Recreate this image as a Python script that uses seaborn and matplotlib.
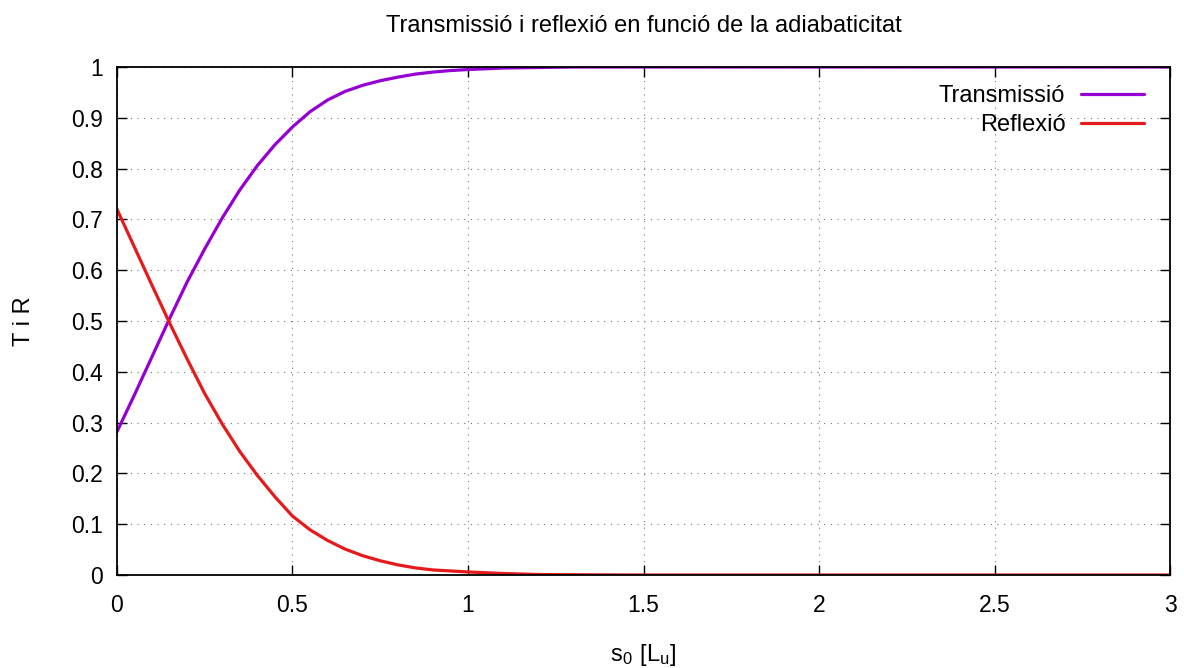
import matplotlib
matplotlib.use('Agg')
import matplotlib.pyplot as plt
import seaborn as sb
import numpy as np
import pandas as pd

# Values
s0 = [0, 0.05, 0.1, 0.15, 0.2, 0.25, 0.3, 0.35, 0.4, 0.45, 0.5, 0.55, 0.6, 0.65,
      0.7, 0.75, 0.8, 0.85, 0.9, 0.95, 1.0, 1.1, 1.2, 1.3, 1.5, 2.0, 2.5, 3.0]
transmissio = [0.282, 0.355, 0.43, 0.505, 0.577, 0.642, 0.703, 0.758, 0.806, 0.847, 0.882,
               0.912, 0.935, 0.952, 0.964, 0.973, 0.980, 0.986, 0.990, 0.993, 0.995,
               0.998, 0.999, 1.0, 1.0, 1.0, 1.0, 1.0]
reflexio = [0.72, 0.645, 0.57, 0.496, 0.425, 0.357, 0.297, 0.243, 0.196, 0.154, 0.116,
            0.089, 0.068, 0.051, 0.038, 0.028, 0.020, 0.014, 0.010, 0.008, 0.006,
            0.003, 0.001, 0.0005, 0, 0, 0, 0]
series_names = ['Transmissió', 'Reflexió']
colors = ['#9400d3', '#e41a1c']

df = pd.DataFrame({'s0': s0 * 2,
                   'val': transmissio + reflexio,
                   'serie': [series_names[0]] * len(s0) + [series_names[1]] * len(s0)})

sb.set_style('ticks')
plt.rcParams['font.family'] = ['Liberation Sans', 'DejaVu Sans']
plt.rcParams['text.color'] = 'black'
plt.rcParams['xtick.color'] = 'black'
plt.rcParams['ytick.color'] = 'black'
plt.rcParams['axes.labelcolor'] = 'black'

fig = plt.figure(figsize=(11.84, 6.68), dpi=100)
ax = fig.add_axes([0.0988, 0.1392, 0.8894, 0.7605])

sb.lineplot(ax=ax, data=df, x='s0', y='val', hue='serie', hue_order=series_names,
            palette=colors, linewidth=2.3, sort=False)

ax.set_xlim(0, 3)
ax.set_ylim(0, 1)
ax.set_xticks(np.arange(0, 3.01, 0.5))
ax.set_yticks(np.arange(0, 1.01, 0.1))
ax.set_xticklabels([f'{v:g}' for v in np.arange(0, 3.01, 0.5)])
ax.set_yticklabels([f'{v:g}' for v in np.round(np.arange(0, 1.01, 0.1), 1)])
ax.tick_params(direction='in', length=7, width=1, top=True, right=True, labelsize=16.5)
ax.tick_params(axis='x', pad=14)
ax.tick_params(axis='y', pad=10)
for sp in ax.spines.values():
    sp.set_visible(True)
    sp.set_linewidth(1.3)
    sp.set_color('black')
ax.grid(True, linestyle=(0, (1, 5)), color='#777777', linewidth=0.8)

ax.set_title('Transmissió i reflexió en funció de la adiabaticitat', fontsize=17, pad=25)
ax.set_xlabel(r'$\mathregular{s_0\ [L_u]}$', fontsize=17)
ax.set_ylabel('T i R', fontsize=17)
ax.xaxis.set_label_coords(0.5, -0.157)
ax.yaxis.set_label_coords(-0.0883, 0.5)
ax.yaxis.label.set_va('center')
ax.xaxis.label.set_va('center')

leg = ax.legend(loc='upper right', bbox_to_anchor=(0.975, 0.965), frameon=False,
                markerfirst=False, fontsize=17, handlelength=2.67, handletextpad=0.65,
                borderaxespad=0, borderpad=0, labelspacing=0.3)
for line in leg.get_lines():
    line.set_linewidth(2.3)
# right-align the entries (gnuplot style: text ends just before the sample line)
for col in leg._legend_handle_box.get_children():
    col.align = 'right'

fig.savefig('out.png', dpi=100)
